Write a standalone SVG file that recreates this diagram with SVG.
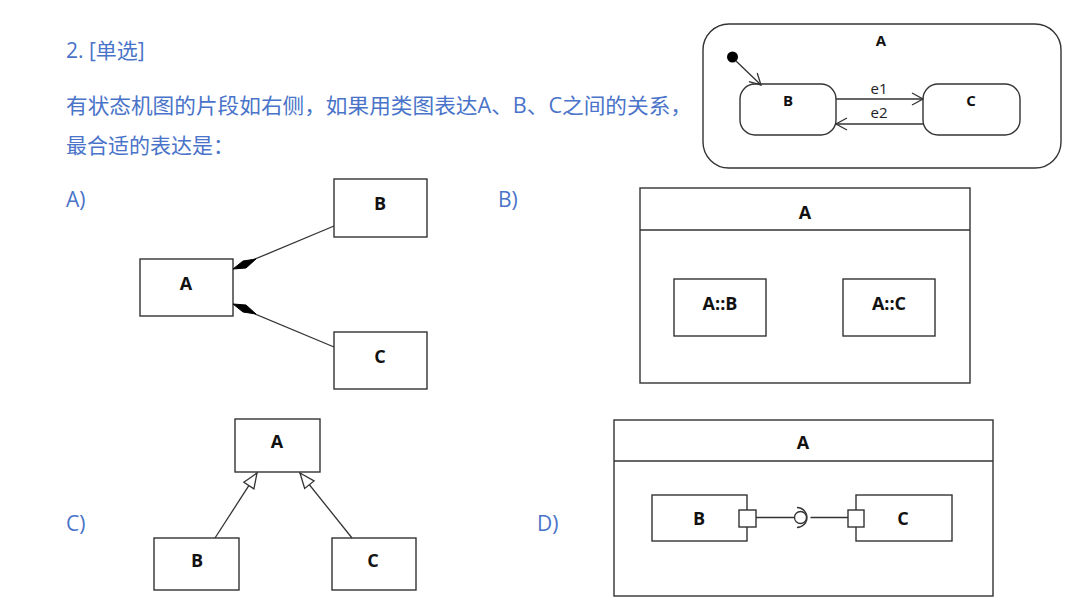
<svg xmlns="http://www.w3.org/2000/svg" width="1080" height="608" viewBox="0 0 1080 608">
<style>
.q{font-family:"Open Sans","Noto Sans CJK SC",sans-serif;font-size:21px;fill:#4a74c9}
.opt{font-family:"Open Sans","Noto Sans",sans-serif;font-size:21px;fill:#4a74c9}
.box{fill:#fff;stroke:#333;stroke-width:1.4}
.ln{fill:none;stroke:#333;stroke-width:1.3}
.lb{font-family:"Open Sans","Noto Sans",sans-serif;font-weight:bold;font-size:18px;fill:#111;text-anchor:middle;dominant-baseline:central}
.sl{font-family:"Open Sans","Noto Sans",sans-serif;font-weight:bold;font-size:15px;fill:#111;text-anchor:middle;dominant-baseline:central}
.ev{font-family:"Open Sans","Noto Sans",sans-serif;font-size:15px;fill:#222;text-anchor:middle;dominant-baseline:central}
</style>
<defs>
<marker id="open" markerUnits="userSpaceOnUse" markerWidth="16" markerHeight="16" refX="12" refY="8" orient="auto">
<path d="M1,2 L12,8 L1,14" fill="none" stroke="#333" stroke-width="1.3"/>
</marker>
<marker id="gen" markerUnits="userSpaceOnUse" markerWidth="20" markerHeight="16" refX="17" refY="8" orient="auto">
<path d="M2,2 L17,8 L2,14 Z" fill="#fff" stroke="#333" stroke-width="1.3"/>
</marker>
</defs>
<rect width="1080" height="608" fill="#fff"/>

<g id="question">
<text class="q" x="66" y="58">2. [单选]</text>
<text class="q" x="66" y="113" textLength="626" lengthAdjust="spacingAndGlyphs">有状态机图的片段如右侧，如果用类图表达A、B、C之间的关系，</text>
<text class="q" x="66" y="153">最合适的表达是：</text>
<text class="opt" x="66" y="207">A)</text>
<text class="opt" x="498" y="207">B)</text>
<text class="opt" x="66" y="531">C)</text>
<text class="opt" x="537" y="531">D)</text>
</g>

<g id="state-A">
<rect class="box" x="703" y="24" width="358" height="144" rx="26"/>
<text class="sl" x="881" y="40">A</text>
<circle cx="732.5" cy="57" r="5.5" fill="#000"/>
</g>
<g id="state-B">
<rect class="box" x="740" y="84" width="96" height="51" rx="15"/>
<text class="sl" x="788" y="100">B</text>
</g>
<g id="state-C">
<rect class="box" x="923" y="84" width="97" height="51" rx="15"/>
<text class="sl" x="971" y="100">C</text>
</g>
<g id="state-connectors">
<line class="ln" x1="736" y1="61" x2="761" y2="85" marker-end="url(#open)"/>
<line class="ln" x1="836" y1="99" x2="923" y2="99" marker-end="url(#open)"/>
<line class="ln" x1="923" y1="124" x2="836" y2="124" marker-end="url(#open)"/>
<text class="ev" x="879" y="88">e1</text>
<text class="ev" x="879" y="112">e2</text>
</g>

<g id="optA-B"><rect class="box" x="334" y="179" width="93" height="58"/><text class="lb" x="380" y="203">B</text></g>
<g id="optA-A"><rect class="box" x="140" y="259" width="93" height="57"/><text class="lb" x="186" y="283">A</text></g>
<g id="optA-C"><rect class="box" x="334" y="332" width="93" height="57"/><text class="lb" x="380" y="356">C</text></g>
<g id="optA-connectors">
<line class="ln" x1="254" y1="259.5" x2="334" y2="226"/>
<line class="ln" x1="254" y1="313.5" x2="334" y2="347"/>
<polygon points="233,269 243,261 256,259 246,268" fill="#000" stroke="#000" stroke-width="1"/>
<polygon points="233,304 243,312 256,314 246,305" fill="#000" stroke="#000" stroke-width="1"/>
</g>

<g id="optB-A">
<rect class="box" x="640" y="188" width="330" height="195"/>
<line class="ln" x1="640" y1="230" x2="970" y2="230"/>
<text class="lb" x="805" y="212">A</text>
</g>
<g id="optB-AB"><rect class="box" x="674" y="279" width="92" height="57"/><text class="lb" x="720" y="303">A::B</text></g>
<g id="optB-AC"><rect class="box" x="843" y="279" width="92" height="57"/><text class="lb" x="889" y="303">A::C</text></g>

<g id="optC-A"><rect class="box" x="235" y="419" width="85" height="53"/><text class="lb" x="277" y="441">A</text></g>
<g id="optC-B"><rect class="box" x="154" y="538" width="85" height="52"/><text class="lb" x="197" y="560">B</text></g>
<g id="optC-C"><rect class="box" x="332" y="538" width="84" height="52"/><text class="lb" x="373" y="560">C</text></g>
<g id="optC-connectors">
<line class="ln" x1="215" y1="538" x2="257" y2="473" marker-end="url(#gen)"/>
<line class="ln" x1="352" y1="538" x2="300" y2="473" marker-end="url(#gen)"/>
</g>

<g id="optD-A">
<rect class="box" x="614" y="420" width="379" height="176"/>
<line class="ln" x1="614" y1="461" x2="993" y2="461"/>
<text class="lb" x="803" y="442">A</text>
</g>
<g id="optD-B">
<rect class="box" x="652" y="495" width="95" height="46"/>
<rect class="box" x="739" y="510" width="17" height="17"/>
<text class="lb" x="699" y="518">B</text>
</g>
<g id="optD-C">
<rect class="box" x="856" y="495" width="96" height="46"/>
<rect class="box" x="848" y="510" width="16" height="17"/>
<text class="lb" x="903" y="518">C</text>
</g>
<g id="optD-connectors">
<line class="ln" x1="756" y1="517.5" x2="794.5" y2="517.5"/>
<line class="ln" x1="810.5" y1="517.5" x2="848" y2="517.5"/>
<circle class="ln" cx="800.5" cy="517.5" r="6"/>
<path class="ln" d="M797,507.5 A10,10 0 0 1 797,527.5"/>
</g>
</svg>
